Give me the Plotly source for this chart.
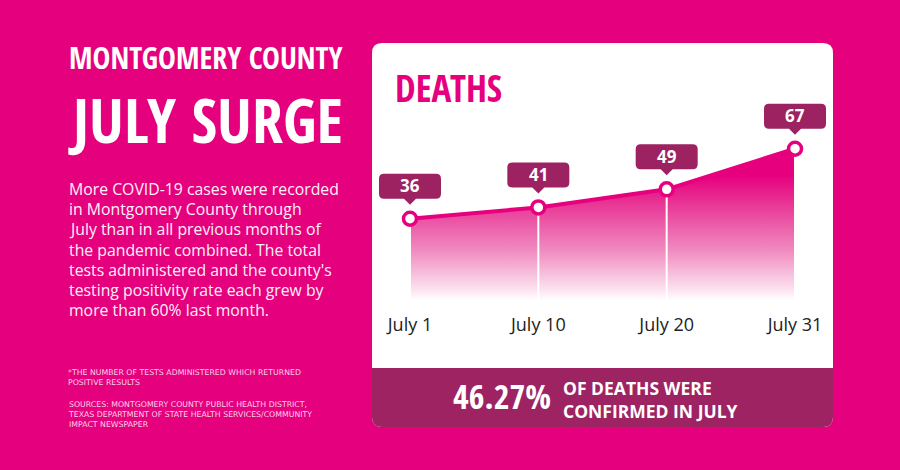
import plotly.graph_objects as go

# data
dates = ["July 1", "July 10", "July 20", "July 31"]
deaths = [36, 41, 49, 67]

headline = ["MONTGOMERY COUNTY", "JULY SURGE"]
body_lines = [
    "More COVID-19 cases were recorded",
    "in Montgomery County through",
    "July than in all previous months of",
    "the pandemic combined. The total",
    "tests administered and the county's",
    "testing positivity rate each grew by",
    "more than 60% last month.",
]
note_lines = ["*THE NUMBER OF TESTS ADMINISTERED WHICH RETURNED", "POSITIVE RESULTS"]
source_lines = [
    "SOURCES: MONTGOMERY COUNTY PUBLIC HEALTH DISTRICT,",
    "TEXAS DEPARTMENT OF STATE HEALTH SERVICES/COMMUNITY",
    "IMPACT NEWSPAPER",
]
panel_title = "DEATHS"
share_value = "46.27%"
share_text = ["OF DEATHS WERE", "CONFIRMED IN JULY"]

# colours / fonts
BG = "#E5007E"
PINK = "#E6007E"
DARK = "#9C2262"
W, H = 900, 470
COND = "Open Sans Condensed, Roboto Condensed, DejaVu Sans Condensed, sans-serif"
SANS = "Open Sans, Noto Sans, sans-serif"


def fx(x):
    return x / W


def fy(y):
    return 1 - y / H


def rounded_rect(x0, y0, x1, y1, r_top, r_bot):
    # pixel box -> paper path
    p = f"M {fx(x0 + r_top)},{fy(y0)} L {fx(x1 - r_top)},{fy(y0)} "
    p += f"Q {fx(x1)},{fy(y0)} {fx(x1)},{fy(y0 + r_top)} "
    p += f"L {fx(x1)},{fy(y1 - r_bot)} Q {fx(x1)},{fy(y1)} {fx(x1 - r_bot)},{fy(y1)} "
    p += f"L {fx(x0 + r_bot)},{fy(y1)} Q {fx(x0)},{fy(y1)} {fx(x0)},{fy(y1 - r_bot)} "
    p += f"L {fx(x0)},{fy(y0 + r_top)} Q {fx(x0)},{fy(y0)} {fx(x0 + r_top)},{fy(y0)} Z"
    return p


xs = list(range(len(dates)))

fig = go.Figure()

# gradient area
fig.add_trace(go.Scatter(
    x=xs, y=deaths, mode="none", fill="tozeroy",
    fillgradient=dict(type="vertical", start=0, stop=max(deaths),
                      colorscale=[[0, "#ffffff"], [0.06, "#fce5f1"], [0.33, "#f08ac0"],
                                  [0.6, "#e9409a"], [0.82, PINK], [1, PINK]]),
    hoverinfo="skip", showlegend=False,
))

# white drop lines
for x, v in zip(xs, deaths):
    fig.add_trace(go.Scatter(
        x=[x, x], y=[0, v], mode="lines", line=dict(color="white", width=2),
        hoverinfo="skip", showlegend=False,
    ))

# main line
fig.add_trace(go.Scatter(
    x=xs, y=deaths, mode="lines+markers",
    line=dict(color=PINK, width=4),
    marker=dict(size=13, color="white", line=dict(color=PINK, width=3.5)),
    hoverinfo="skip", showlegend=False,
))

shapes = [
    dict(type="path", xref="paper", yref="paper", path=rounded_rect(372, 43, 833, 427, 10, 10),
         fillcolor="white", line=dict(width=0), layer="below"),
    dict(type="path", xref="paper", yref="paper", path=rounded_rect(372, 368, 833, 427, 0, 10),
         fillcolor="#9D2363", line=dict(width=0), layer="below"),
]

# value callout boxes (pixel sized, anchored on points)
for x, v in zip(xs, deaths):
    bw, b0, b1, r = 31, 20, 45, 5
    path = (f"M {-bw + r},{b1} L {bw - r},{b1} Q {bw},{b1} {bw},{b1 - r} "
            f"L {bw},{b0 + r} Q {bw},{b0} {bw - r},{b0} L 6,{b0} L 0,{b0 - 6} L -6,{b0} "
            f"L {-bw + r},{b0} Q {-bw},{b0} {-bw},{b0 + r} L {-bw},{b1 - r} Q {-bw},{b1} {-bw + r},{b1} Z")
    shapes.append(dict(type="path", xref="x", yref="y", xsizemode="pixel", ysizemode="pixel",
                       xanchor=x, yanchor=v, path=path, fillcolor=DARK, line=dict(width=0)))

ann = []
for x, v in zip(xs, deaths):
    ann.append(dict(x=x, y=v, xref="x", yref="y", text=f"<b>{v}</b>", showarrow=False,
                    yshift=33, font=dict(family=SANS, size=17, color="white")))

ann.append(dict(x=fx(67), y=fy(57), xref="paper", yref="paper", xanchor="left", yanchor="middle",
                text=f"<b>{headline[0]}</b>", showarrow=False,
                font=dict(family=COND, size=30, color="white")))
ann.append(dict(x=fx(66), y=fy(119), xref="paper", yref="paper", xanchor="left", yanchor="middle",
                text=f"<b>{headline[1]}</b>", showarrow=False,
                font=dict(family=COND, size=62, color="white")))

for i, line in enumerate(body_lines):
    ann.append(dict(x=fx(67), y=fy(189 + i * 20.2), xref="paper", yref="paper", xanchor="left",
                    yanchor="middle", text=line, showarrow=False,
                    font=dict(family=SANS, size=15.8, color="#FFF0F7")))

ann.append(dict(x=fx(66), y=fy(366), xref="paper", yref="paper", xanchor="left", yanchor="top",
                align="left", text="<br>".join(note_lines), showarrow=False,
                font=dict(family="DejaVu Sans, sans-serif", size=7.8, color="#FBCFE6")))
ann.append(dict(x=fx(66), y=fy(398), xref="paper", yref="paper", xanchor="left", yanchor="top",
                align="left", text="<br>".join(source_lines), showarrow=False,
                font=dict(family="DejaVu Sans, sans-serif", size=7.8, color="#FBCFE6")))

ann.append(dict(x=fx(393), y=fy(87), xref="paper", yref="paper", xanchor="left", yanchor="middle",
                text=f"<b>{panel_title}</b>", showarrow=False,
                font=dict(family=COND, size=37, color=PINK)))

ann.append(dict(x=fx(553), y=fy(396), xref="paper", yref="paper", xanchor="right", yanchor="middle",
                text=f"<b>{share_value}</b>", showarrow=False,
                font=dict(family=COND, size=34, color="white")))
for i, line in enumerate(share_text):
    ann.append(dict(x=fx(561), y=fy(387.5 + i * 23), xref="paper", yref="paper", xanchor="left",
                    yanchor="middle", text=f"<b>{line}</b>", showarrow=False,
                    font=dict(family=SANS, size=17.5, color="white")))

fig.update_layout(
    width=W, height=H, margin=dict(l=0, r=0, t=0, b=0),
    paper_bgcolor=BG, plot_bgcolor="rgba(0,0,0,0)",
    shapes=shapes, annotations=ann, showlegend=False,
    xaxis=dict(domain=[fx(372), fx(833)], range=[-0.296, 3.296], tickvals=xs, ticktext=dates,
               showgrid=False, zeroline=False, showline=False, ticks="",
               ticklabelstandoff=12, tickfont=dict(family=SANS, size=18, color="#222222")),
    yaxis=dict(domain=[fy(300), fy(100)], range=[0, 88.57], visible=False),
)

fig.write_html("out.html", config={"displayModeBar": False},
               post_script="document.body.style.margin='0';")
